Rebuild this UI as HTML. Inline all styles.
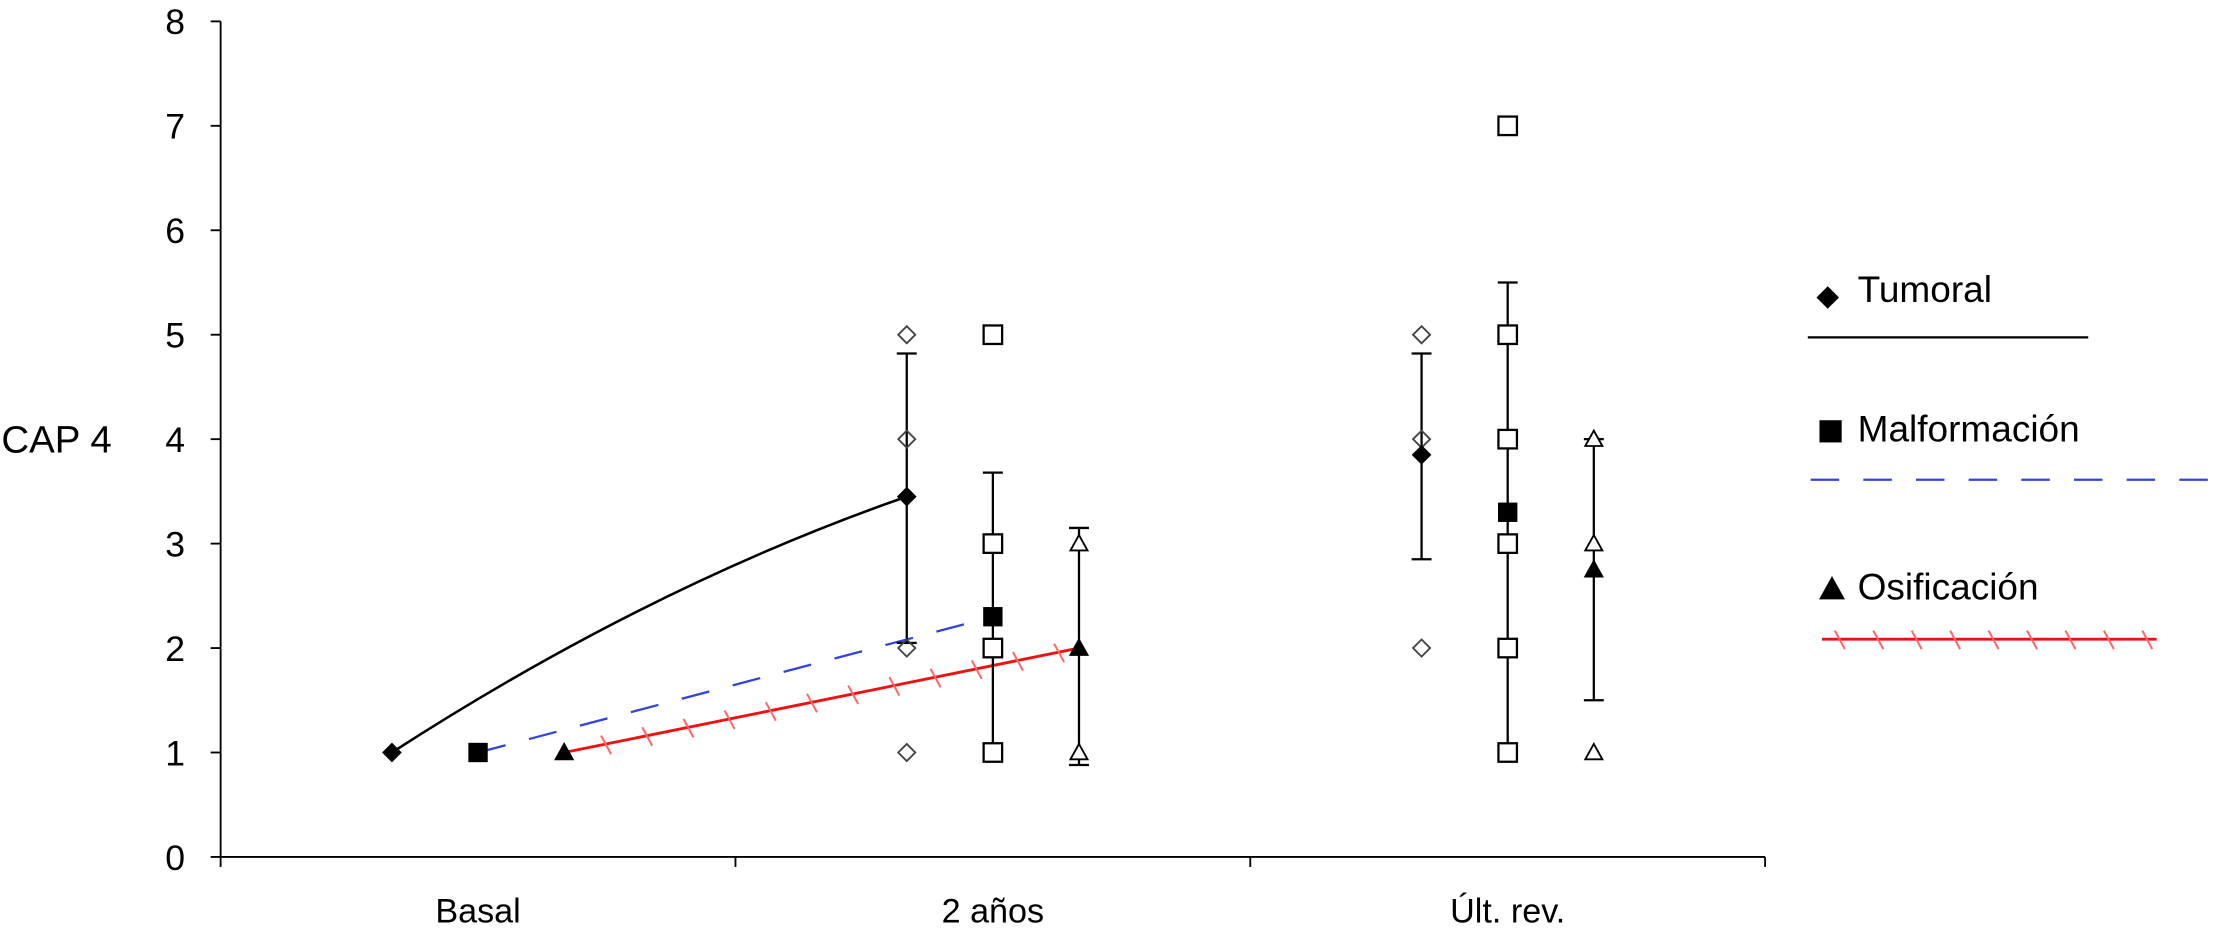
<!DOCTYPE html>
<html><head><meta charset="utf-8"><style>
html,body{margin:0;padding:0;background:#fff;}
svg{display:block;font-family:"Liberation Sans",Arial,sans-serif;}
</style></head><body>
<svg id="chart" width="2232" height="929" viewBox="0 0 1568 652.6" xmlns="http://www.w3.org/2000/svg">
<g id="axes"></g><g id="marks"></g><g id="legend"></g>
</svg>
<script>
const categories = ["Basal", "2 años", "Últ. rev."];
const yTicks = [0,1,2,3,4,5,6,7,8];
const seriesNames = ["Tumoral", "Malformación", "Osificación"];
const tumoralMean = [1, 3.45, 3.85];
const malfMean = [1, 2.3, 3.3];
const osifMean = [1, 2, 2.75];
const tumoralErr = [null, [2.05, 4.82], [2.85, 4.82]];
const malfErr = [null, [1, 3.68], [1, 5.5]];
const osifErr = [null, [0.88, 3.15], [1.5, 4]];
const tumoralPts = [[], [5,4,2,1], [5,4,2]];
const malfPts = [[], [5,3,2,1], [7,5,4,3,2,1]];
const osifPts = [[], [3,1], [4,3,1]];

const NS="http://www.w3.org/2000/svg";
const x0=155, x1=1240, yBase=602, yTop=15;
function yS(v){return yBase-(v/8)*(yBase-yTop);}
function catX(i,s){const w=(x1-x0)/3;return x0+w*i+w/2+(s-1)*60.5;}
function el(tag,attrs,parent,name){const e=document.createElementNS(NS,tag);for(const k in attrs)e.setAttribute(k,attrs[k]);


parent.appendChild(e);return e;}
const axes=document.getElementById('axes'),marks=document.getElementById('marks'),legend=document.getElementById('legend');

el('line',{x1:x0,y1:yTop,x2:x0,y2:yBase,stroke:'#000','stroke-width':1.3},axes,'y-axis');
el('line',{x1:x0,y1:yBase,x2:x1,y2:yBase,stroke:'#000','stroke-width':1.3},axes,'x-axis');
yTicks.forEach(t=>{const y=yS(t);
el('line',{x1:x0-7,y1:y,x2:x0,y2:y,stroke:'#000','stroke-width':1.3},axes,'y-tick');
const tx=el('text',{x:x0-25,y:y+9,'text-anchor':'end','font-size':25},axes,'y-tick-label');tx.textContent=t;});
for(let i=0;i<=3;i++){const x=x0+(x1-x0)/3*i;el('line',{x1:x,y1:yBase,x2:x,y2:yBase+7,stroke:'#000','stroke-width':1.3},axes,'x-tick');}
categories.forEach((c,i)=>{const t=el('text',{x:catX(i,1),y:648,'text-anchor':'middle','font-size':24},axes,'x-tick-label');t.textContent=c;});
const yt=el('text',{x:1,y:318,'font-size':27},axes,'y-axis-title');yt.textContent='CAP 4';

function diamond(cx,cy,r,fill,p,name){return el('path',{d:`M${cx},${cy-r}L${cx+r},${cy}L${cx},${cy+r}L${cx-r},${cy}Z`,fill:fill,stroke:fill==='none'?'#444':'#000','stroke-width':1.3},p,name);}
function square(cx,cy,r,fill,p,name){return el('rect',{x:cx-r,y:cy-r,width:2*r,height:2*r,fill:fill,stroke:'#000','stroke-width':1.6},p,name);}
function tri(cx,cy,r,fill,p,name){return el('path',{d:`M${cx},${cy-r}L${cx+r},${cy+r*0.8}L${cx-r},${cy+r*0.8}Z`,fill:fill,stroke:'#000','stroke-width':1.3},p,name);}

{const ax=catX(0,0),ay=yS(tumoralMean[0]),bx=catX(1,0),by=yS(tumoralMean[1]);
el('path',{d:`M${ax},${ay} Q${ax+(bx-ax)*0.5},${ay-(ay-by)*0.65} ${bx},${by}`,fill:'none',stroke:'#000','stroke-width':1.8},marks,'tumoral-line');}
{const ax=catX(0,1),ay=yS(malfMean[0]),bx=catX(1,1),by=yS(malfMean[1]);
el('line',{x1:ax,y1:ay,x2:bx,y2:by,stroke:'#3344dd','stroke-width':1.6,'stroke-dasharray':'20 17'},marks,'malformacion-line');}
{const ax=catX(0,2),ay=yS(osifMean[0]),bx=catX(1,2),by=yS(osifMean[1]);
el('line',{x1:ax,y1:ay,x2:bx,y2:by,stroke:'#ee1111','stroke-width':2},marks,'osificacion-line');
const n=Math.floor((bx-ax)/30);for(let k=1;k<=n;k++){const x=ax+(bx-ax)*k/(n+0.5),y=ay+(by-ay)*k/(n+0.5);
el('line',{x1:x-3,y1:y-6,x2:x+4,y2:y+7,stroke:'#ff6666','stroke-width':1.4},marks,'osificacion-tick');}}

const series=[[tumoralMean,tumoralErr,tumoralPts,'tumoral'],[malfMean,malfErr,malfPts,'malformacion'],[osifMean,osifErr,osifPts,'osificacion']];
series.forEach(([m,e,p,nm],s)=>{
 categories.forEach((c,i)=>{const x=catX(i,s);
  if(e[i]){const a=yS(e[i][0]),b=yS(e[i][1]);
   el('line',{x1:x,y1:a,x2:x,y2:b,stroke:'#000','stroke-width':1.6},marks,nm+'-error-bar');
   el('line',{x1:x-7,y1:a,x2:x+7,y2:a,stroke:'#000','stroke-width':1.6},marks,nm+'-error-cap');
   el('line',{x1:x-7,y1:b,x2:x+7,y2:b,stroke:'#000','stroke-width':1.6},marks,nm+'-error-cap');}
  p[i].forEach(v=>{const y=yS(v);
   if(s===0)diamond(x,y,6,'none',marks,'tumoral-point');
   else if(s===1)square(x,y,6.5,'#fff',marks,'malformacion-point');
   else tri(x,y,6,'#fff',marks,'osificacion-point');});
  const y=yS(m[i]);
  if(s===0)diamond(x,y,6,'#000',marks,'tumoral-mean');
  else if(s===1)square(x,y,6,'#000',marks,'malformacion-mean');
  else tri(x,y,6,'#000',marks,'osificacion-mean');
 });
});

diamond(1284,209,7,'#000',legend,'legend-tumoral-marker');
let t=el('text',{x:1305,y:212,'font-size':26},legend,'legend-tumoral-label');t.textContent='Tumoral';
el('line',{x1:1270,y1:237,x2:1467,y2:237,stroke:'#000','stroke-width':1.6},legend,'legend-tumoral-line');
square(1286,303,7,'#000',legend,'legend-malformacion-marker');
t=el('text',{x:1305,y:310,'font-size':26},legend,'legend-malformacion-label');t.textContent='Malformación';
el('line',{x1:1272,y1:337,x2:1568,y2:337,stroke:'#3344dd','stroke-width':1.6,'stroke-dasharray':'20 17'},legend,'legend-malformacion-line');
tri(1287,414,8,'#000',legend,'legend-osificacion-marker');
t=el('text',{x:1305,y:421,'font-size':26},legend,'legend-osificacion-label');t.textContent='Osificación';
el('line',{x1:1280,y1:449,x2:1515,y2:449,stroke:'#ee1111','stroke-width':2},legend,'legend-osificacion-line');
for(let x=1292;x<1510;x+=27){el('line',{x1:x-3,y1:443,x2:x+4,y2:456,stroke:'#ff6666','stroke-width':1.4},legend,'legend-osificacion-tick');}
</script>
</body></html>
